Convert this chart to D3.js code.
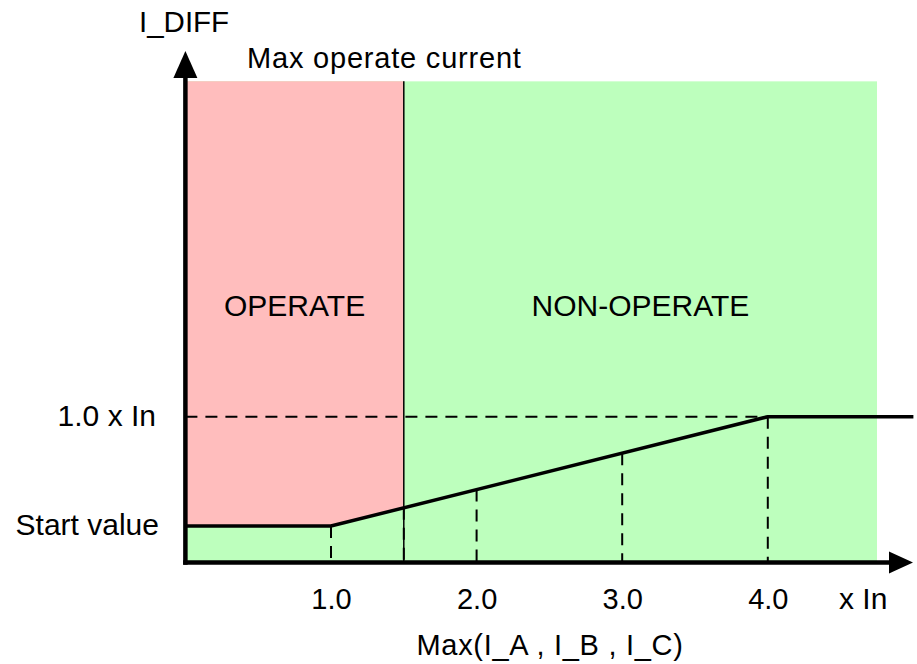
<!DOCTYPE html>
<html>
<head>
<meta charset="utf-8">
<script src="https://cdn.jsdelivr.net/npm/d3@7"></script>
<style>
  html, body { margin: 0; padding: 0; background: #ffffff; }
  svg { display: block; }
  text { font-family: "Liberation Sans", Arial, sans-serif; fill: #000; }
</style>
</head>
<body>
<svg id="chart" width="917" height="664"></svg>
<script>
// Characteristic points of the differential current curve (multiples of In)
const curveX = [0, 1.0, 4.0, 5.0];
const curveY = [0.25, 0.25, 1.0, 1.0];

// Tick positions on the bias-current axis and their labels
const xTicks = [1.0, 2.0, 3.0, 4.0];
const xTickLabels = ["1.0", "2.0", "3.0", "4.0"];

// Labelled levels on the differential axis
const yLevels = [0.25, 1.0];
const yLevelLabels = ["Start value", "1.0 x In"];

// Operate limit and extent of the shaded regions
const maxOperate = [1.5];
const regionTop = [3.3];
const regionRight = [4.75];

// Drop lines from the curve to the axis
const dropX = [1.0, 1.5, 2.0, 3.0, 4.0];

const svg = d3.select("#chart");

const x = d3.scaleLinear().domain([0, 5]).range([185.4, 913.4]);
const y = d3.scaleLinear().domain([0, 1]).range([562.5, 416.7]);

const curve = curveX.map((v, i) => [v, curveY[i]]);
const curveAt = d3.scaleLinear().domain(curveX).range(curveY);

// Non-operate region (whole shaded area)
svg.append("rect")
  .attr("x", x(0))
  .attr("y", y(regionTop[0]))
  .attr("width", x(regionRight[0]) - x(0))
  .attr("height", y(0) - y(regionTop[0]))
  .attr("fill", "#bdffbd");

// Operate region: above the curve, left of the max operate current
const opPoly = [
  [0, regionTop[0]],
  [maxOperate[0], regionTop[0]],
  [maxOperate[0], curveAt(maxOperate[0])],
  [1.0, curveAt(1.0)],
  [0, curveAt(0)]
];
svg.append("path")
  .attr("d", d3.line().x(d => x(d[0])).y(d => y(d[1]))(opPoly) + "Z")
  .attr("fill", "#ffbdbd");

// Max operate current boundary
svg.append("line")
  .attr("x1", x(maxOperate[0])).attr("x2", x(maxOperate[0]))
  .attr("y1", y(regionTop[0])).attr("y2", y(0))
  .attr("stroke", "#000").attr("stroke-width", 1.5);

// Dashed guide at 1.0 x In
svg.append("line")
  .attr("x1", x(0)).attr("x2", x(4.0))
  .attr("y1", y(1.0)).attr("y2", y(1.0))
  .attr("stroke", "#000").attr("stroke-width", 2)
  .attr("stroke-dasharray", "12,8");

// Dashed drop lines
svg.selectAll("line.drop")
  .data(dropX)
  .enter().append("line")
  .attr("class", "drop")
  .attr("x1", d => x(d)).attr("x2", d => x(d))
  .attr("y1", d => y(curveAt(d))).attr("y2", y(0))
  .attr("stroke", "#000").attr("stroke-width", 2)
  .attr("stroke-dasharray", "12,8");

// Characteristic curve
svg.append("path")
  .attr("d", d3.line().x(d => x(d[0])).y(d => y(d[1]))(curve))
  .attr("fill", "none")
  .attr("stroke", "#000")
  .attr("stroke-width", 3.5)
  .attr("stroke-linejoin", "miter");

// Axes with arrow heads
const x0 = x(0), y0 = y(0);
svg.append("line")
  .attr("x1", x0).attr("x2", x0)
  .attr("y1", y0 + 2.2).attr("y2", 76)
  .attr("stroke", "#000").attr("stroke-width", 4.5);
svg.append("path")
  .attr("d", `M${x0 - 12},78 L${x0},51 L${x0 + 12},78 Z`)
  .attr("fill", "#000");
svg.append("line")
  .attr("x1", x0 - 2.2).attr("x2", 891)
  .attr("y1", y0).attr("y2", y0)
  .attr("stroke", "#000").attr("stroke-width", 4.5);
svg.append("path")
  .attr("d", `M889,${y0 - 11} L913,${y0} L889,${y0 + 11} Z`)
  .attr("fill", "#000");

// Bottom axis labels
const xAxis = d3.axisBottom(x)
  .tickValues(xTicks)
  .tickFormat((d, i) => xTickLabels[i])
  .tickSize(0)
  .tickPadding(0);
const gx = svg.append("g")
  .attr("transform", `translate(0,${y0})`)
  .call(xAxis);
gx.select(".domain").remove();
gx.selectAll("text")
  .attr("dy", null)
  .attr("y", 46)
  .style("font-family", "'Liberation Sans', Arial, sans-serif")
  .style("font-size", "29px")
  .attr("fill", "#000");

// Left axis level labels
svg.selectAll("text.ylev")
  .data(yLevels)
  .enter().append("text")
  .attr("class", "ylev")
  .attr("x", (d, i) => i === 0 ? 159 : 156)
  .attr("y", d => y(d) + 9)
  .attr("text-anchor", "end")
  .style("font-size", "30px")
  .text((d, i) => yLevelLabels[i]);

svg.append("text")
  .attr("x", 839).attr("y", 609)
  .style("font-size", "30px")
  .text("x In");

svg.append("text")
  .attr("x", 550).attr("y", 655)
  .attr("text-anchor", "middle")
  .style("font-size", "29px")
  .style("letter-spacing", "0.7px")
  .text("Max(I_A , I_B , I_C)");

svg.append("text")
  .attr("x", 139).attr("y", 32)
  .style("font-size", "29.5px")
  .text("I_DIFF");

svg.append("text")
  .attr("x", 247).attr("y", 68)
  .style("font-size", "29px")
  .style("letter-spacing", "0.8px")
  .text("Max operate current");

// Region captions
svg.append("text")
  .attr("x", (x(0) + x(maxOperate[0])) / 2).attr("y", 316)
  .attr("text-anchor", "middle")
  .style("font-size", "30px")
  .text("OPERATE");

svg.append("text")
  .attr("x", (x(maxOperate[0]) + x(regionRight[0])) / 2).attr("y", 316)
  .attr("text-anchor", "middle")
  .style("font-size", "30px")
  .text("NON-OPERATE");
</script>
</body>
</html>
